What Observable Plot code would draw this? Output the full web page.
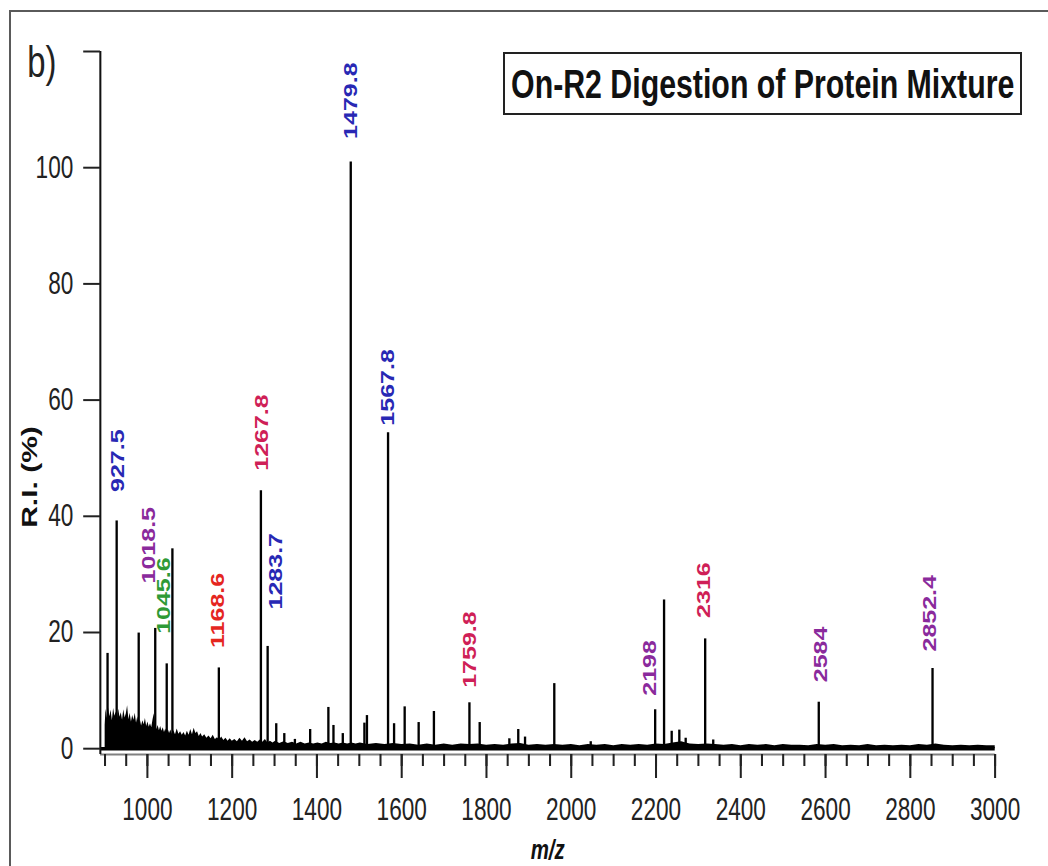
<!DOCTYPE html>
<html>
<head>
<meta charset="utf-8">
<script src="https://cdn.jsdelivr.net/npm/d3@7"></script>
<script src="https://cdn.jsdelivr.net/npm/@observablehq/plot@0.6"></script>
<style>
  html, body { margin: 0; padding: 0; background: #fff; }
  #wrap { position: relative; width: 1048px; height: 866px; overflow: hidden; background: #fff; }
  #wrap svg { position: absolute; left: 0; top: 0; }
  #frame { position: absolute; left: 9px; top: 10px; width: 1050px; height: 870px;
           border-top: 2.5px solid #5a5a5a; border-left: 2.5px solid #5a5a5a; box-sizing: border-box; }
  #title { position: absolute; left: 503px; top: 52px; width: 519px; height: 63px;
           border: 2.5px solid #222; box-sizing: border-box; background: #fff;
           display: flex; align-items: center; justify-content: center; overflow: visible; }
  #title span { display: inline-block; white-space: nowrap; transform: scaleX(0.73); transform-origin: center;
                font-family: "Liberation Sans", Arial, sans-serif; font-weight: bold; font-size: 41.5px; color: #111; }
</style>
</head>
<body>
<div id="wrap">
  <div id="frame"></div>
  <div id="title"><span>On-R2 Digestion of Protein Mixture</span></div>
</div>
<script>
// ---- Data ----
// Annotated peaks
const labeledMz    = [927.5, 1018.5, 1045.6, 1168.6, 1267.8, 1283.7, 1479.8, 1567.8, 1759.8, 2198, 2316, 2584, 2852.4];
const labeledText  = ["927.5", "1018.5", "1045.6", "1168.6", "1267.8", "1283.7", "1479.8", "1567.8", "1759.8", "2198", "2316", "2584", "2852.4"];
const labeledRI    = [39.2, 20.7, 14.6, 13.9, 44.4, 17.6, 101, 54.4, 7.9, 6.7, 18.9, 8.0, 13.8];
const labeledGroup = ["P1", "P2", "P3", "P4", "P5", "P1", "P1", "P1", "P5", "P2", "P5", "P2", "P2"];

// Unannotated peaks
const otherMz = [906, 979.5, 1059, 1304, 1323, 1348, 1384, 1427, 1439, 1461, 1512, 1518, 1582, 1607, 1640, 1676, 1784, 1854, 1875, 1891, 1960, 2046, 2219, 2237, 2255, 2335, 2270];
const otherRI = [16.4, 19.9, 34.4, 4.3, 2.6, 1.6, 3.3, 7.1, 4.0, 2.6, 4.4, 5.7, 4.3, 7.2, 4.5, 6.4, 4.5, 1.7, 3.3, 2.0, 11.2, 1.2, 25.6, 3.0, 3.2, 1.5, 1.8];

// Baseline noise envelope [m/z, R.I.]
const noise = [
  [900,4.0],[902,6.8],[905,5.2],[908,7.0],[911,5.5],[914,6.6],[917,4.8],[920,6.9],[923,5.6],[926,6.3],
  [929,5.0],[932,6.8],[935,5.4],[938,6.2],[941,4.9],[944,6.7],[947,5.3],[950,6.0],[953,7.4],[956,5.0],
  [959,6.1],[962,4.6],[965,5.7],[968,4.9],[971,6.1],[974,4.4],[977,5.5],[980,4.2],[983,5.0],[986,3.9],
  [989,4.8],[992,4.1],[995,5.2],[998,3.8],[1001,4.6],[1004,3.7],[1007,4.3],[1010,3.6],[1013,5.0],[1016,6.0],
  [1019,3.9],[1022,3.3],[1025,4.0],[1028,3.1],[1031,3.8],[1034,3.0],[1037,3.6],[1040,2.8],[1043,3.4],[1046,2.7],
  [1049,3.3],[1052,2.6],[1055,3.2],[1058,2.5],[1062,3.1],[1066,2.4],[1070,3.4],[1074,2.5],[1078,2.9],[1082,2.3],
  [1086,2.8],[1090,2.2],[1094,3.0],[1098,2.3],[1102,3.3],[1106,2.4],[1110,3.5],[1114,2.6],[1118,2.9],[1122,2.1],
  [1126,2.6],[1130,2.0],[1135,2.4],[1140,1.8],[1145,2.2],[1150,1.7],[1155,2.3],[1160,1.6],[1165,1.9],[1170,1.5],
  [1175,2.0],[1180,1.4],[1185,1.8],[1190,1.3],[1195,1.7],[1200,1.3],[1206,1.6],[1212,1.2],[1218,1.8],[1224,1.3],
  [1230,1.9],[1236,1.2],[1242,1.5],[1248,1.1],[1254,1.4],[1260,1.1],[1266,1.5],[1272,1.1],[1278,1.6],[1284,1.0],
  [1290,1.3],[1296,1.0],[1302,1.3],[1312,0.9],[1322,1.2],[1332,0.9],[1342,1.1],[1352,0.8],[1362,1.1],[1372,0.8],
  [1382,1.0],[1392,0.8],[1402,1.0],[1412,0.8],[1422,1.1],[1432,0.9],[1442,1.0],[1452,0.8],[1462,1.0],[1472,0.8],
  [1482,1.0],[1492,0.8],[1502,1.0],[1520,0.7],[1540,0.9],[1560,0.7],[1580,0.9],[1600,0.7],[1620,0.8],[1640,0.6],
  [1660,0.8],[1680,0.6],[1700,0.8],[1720,0.6],[1740,0.8],[1760,0.7],[1780,0.8],[1800,0.6],[1820,0.7],[1840,0.6],
  [1860,0.8],[1880,0.9],[1900,0.6],[1920,0.7],[1940,0.6],[1960,0.7],[1980,0.6],[2000,0.7],[2020,0.5],[2040,0.7],
  [2060,0.6],[2080,0.7],[2100,0.5],[2120,0.7],[2140,0.6],[2160,0.7],[2180,0.6],[2200,0.8],[2220,0.7],[2240,1.0],
  [2260,1.2],[2280,0.8],[2300,0.7],[2320,0.8],[2340,0.7],[2360,0.6],[2380,0.7],[2400,0.5],[2420,0.7],[2440,0.6],
  [2460,0.7],[2480,0.5],[2500,0.7],[2520,0.6],[2540,0.6],[2560,0.5],[2580,0.7],[2600,0.6],[2620,0.7],[2640,0.5],
  [2660,0.6],[2680,0.5],[2700,0.7],[2720,0.5],[2740,0.6],[2760,0.5],[2780,0.6],[2800,0.5],[2820,0.7],[2840,0.6],
  [2860,0.8],[2880,0.6],[2900,0.5],[2920,0.6],[2940,0.5],[2960,0.6],[2980,0.5],[3000,0.5]
];

// Axes
const xMajorTicks = [1000, 1200, 1400, 1600, 1800, 2000, 2200, 2400, 2600, 2800, 3000];
const yTicks = [0, 20, 40, 60, 80, 100, 120];
const yTickLabels = ["0", "20", "40", "60", "80", "100", ""];

const groupNames  = ["P1", "P2", "P3", "P4", "P5"];
const groupColors = ["#2828b4", "#8a2a9c", "#2f9a36", "#e5261f", "#cf1f57"];

// ---- Tables ----
const labeled = labeledMz.map((mz, i) => ({mz, ri: labeledRI[i], text: labeledText[i], group: labeledGroup[i]}));
const others = otherMz.map((mz, i) => ({mz, ri: otherRI[i]}));
const allPeaks = labeled.concat(others);

// The reference is horizontally compressed; draw wider then squeeze.
const SQ = 0.73;
const W = Math.round(1048 / SQ), H = 866;

// Label placement nudges (screen px: [dx, dy]) to follow the reference annotation layout
const labelNudge = {
  "927.5": [1, -29], "1018.5": [-6, -45], "1045.6": [-3, -30], "1168.6": [-1, -20],
  "1267.8": [1, -20], "1283.7": [9, -37], "1479.8": [0, -23], "1567.8": [0, -7],
  "1759.8": [1, -15], "2198": [-5, -14], "2316": [-1, -21], "2584": [2, -20], "2852.4": [-2, -17]
};
const labelMarks = labeled.map(d => Plot.text([d], {
  x: "mz", y: "ri", text: "text", fill: "group", rotate: -90, textAnchor: "start",
  dx: labelNudge[d.text][0] / SQ, dy: labelNudge[d.text][1], fontWeight: "bold", fontSize: 25
}));

const svg = Plot.plot({
  width: W, height: H,
  marginLeft: 137, marginRight: 73, marginTop: 51, marginBottom: 112,
  x: {domain: [889, 3000]},
  y: {domain: [-1, 120]},
  color: {domain: groupNames, range: groupColors},
  style: {fontFamily: "'Liberation Sans', Arial, sans-serif", fontSize: "31px", color: "#222", background: "transparent", overflow: "visible"},
  marks: [
    Plot.areaY(noise, {x: d => d[0], y: d => d[1], fill: "#000", curve: "linear"}),
    Plot.ruleX(allPeaks, {x: "mz", y1: 0, y2: "ri", stroke: "#000", strokeWidth: 3.2}),
    Plot.ruleY([0], {stroke: "#000", strokeWidth: 3.5}),
    Plot.ruleY([-1], {stroke: "#808080", strokeWidth: 2}),
    Plot.ruleX([889], {stroke: "#111", strokeWidth: 2.8}),
    Plot.axisY(yTicks, {tickSize: 23, tickPadding: 14, strokeWidth: 2, tickFormat: d => yTickLabels[yTicks.indexOf(d)], label: null}),
    Plot.axisX(d3.range(900, 3001, 50), {tickSize: 12, strokeWidth: 2.8, tickFormat: () => "", label: null}),
    Plot.axisX(xMajorTicks, {tickSize: 24, tickPadding: 19, strokeWidth: 2.8, tickFormat: d => String(d), label: null}),
    ...labelMarks,
    Plot.text(["R.I. (%)"], {frameAnchor: "left", textAnchor: "middle", lineAnchor: "middle", dx: -97, dy: 74, rotate: -90, fontWeight: "bold", fontSize: 30, fill: "#111"}),
    Plot.text(["m/z"], {frameAnchor: "bottom", lineAnchor: "middle", dy: 96, fontWeight: "bold", fontStyle: "italic", fontSize: 28, fill: "#111"}),
    Plot.text(["b)"], {frameAnchor: "top-left", dx: -100, dy: -6, textAnchor: "start", lineAnchor: "top", fontSize: 45, fill: "#222"})
  ]
});

svg.setAttribute("viewBox", `0 0 ${W} ${H}`);
svg.setAttribute("preserveAspectRatio", "none");
svg.style.width = "1048px";
svg.style.height = "866px";
svg.style.maxWidth = "none";
const wrap = document.getElementById("wrap");
wrap.insertBefore(svg, wrap.firstChild);
</script>
</body>
</html>
